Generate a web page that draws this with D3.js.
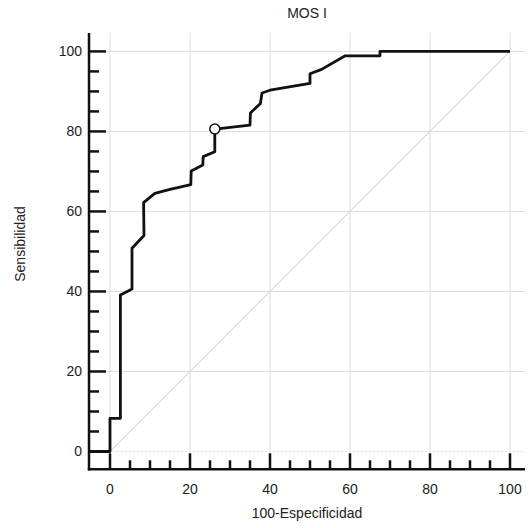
<!DOCTYPE html>
<html>
<head>
<meta charset="utf-8">
<script src="https://cdn.jsdelivr.net/npm/d3@7"></script>
<style>
body { margin: 0; background: #fff; }
svg { display: block; font-family: "Liberation Sans", Arial, sans-serif; }
</style>
</head>
<body>
<svg width="529" height="528"></svg>
<script>
const width = 529, height = 528;
const svg = d3.select("svg");

// ROC curve (100-Especificidad, Sensibilidad)
const fpr = [0, 0, 2.6, 2.6, 5.5, 5.5, 8.5, 8.4, 11.2, 15, 20.2, 20.3, 23.2, 23.3, 26.2, 26.2, 35, 35.1, 37.6, 38, 40, 50, 50, 52.9, 58.8, 67.5, 67.5, 100];
const tpr = [0, 8.3, 8.3, 39.1, 40.6, 50.8, 54, 62.2, 64.5, 65.5, 66.7, 70.1, 71.6, 73.7, 74.9, 80.6, 81.6, 84.6, 87, 89.6, 90.3, 92, 94.4, 95.5, 98.9, 98.9, 100, 100];
// punto de corte óptimo
const cutX = [26.2], cutY = [80.6];
const ticks = [0, 20, 40, 60, 80, 100];
const minorTicks = d3.range(0, 101, 5).filter(v => v % 20 !== 0);

const x = d3.scaleLinear().domain([-5.25, 103.75]).range([89, 525]);
const y = d3.scaleLinear().domain([-4.45, 104.6]).range([469.3, 33]);

// grilla
const grid = svg.append("g").attr("stroke", "#dcdcdc").attr("stroke-width", 1);
grid.selectAll(".gx").data(ticks).enter().append("line")
	.attr("x1", d => x(d)).attr("x2", d => x(d))
	.attr("y1", y.range()[1]).attr("y2", y.range()[0]);
grid.selectAll(".gy").data(ticks).enter().append("line")
	.attr("y1", d => y(d)).attr("y2", d => y(d))
	.attr("x1", x.range()[0]).attr("x2", x.range()[1])
	.attr("stroke-dasharray", d => d === 0 ? "2,2" : null);

// diagonal de referencia
svg.append("line")
	.attr("x1", x(0)).attr("y1", y(0))
	.attr("x2", x(100)).attr("y2", y(100))
	.attr("stroke", "#c8c8c8").attr("stroke-width", 1);

// curva ROC
const pts = fpr.map((v, i) => [v, tpr[i]]);
pts.unshift([x.domain()[0], 0]);
svg.append("path")
	.datum(pts)
	.attr("fill", "none")
	.attr("stroke", "#111")
	.attr("stroke-width", 2.8)
	.attr("stroke-linejoin", "round")
	.attr("d", d3.line().x(d => x(d[0])).y(d => y(d[1])));

svg.selectAll(".cut").data(cutX).enter().append("circle")
	.attr("cx", d => x(d)).attr("cy", (d, i) => y(cutY[i]))
	.attr("r", 5)
	.attr("fill", "#fff").attr("stroke", "#111").attr("stroke-width", 1.5);

// ejes
const ax = svg.append("g").attr("stroke", "#111").attr("stroke-width", 2.5);
ax.append("line").attr("x1", x.range()[0]).attr("x2", x.range()[0])
	.attr("y1", y.range()[1]).attr("y2", y.range()[0] + 1.2);
ax.append("line").attr("x1", x.range()[0] - 1.2).attr("x2", x.range()[1])
	.attr("y1", y.range()[0]).attr("y2", y.range()[0]);

// marcas eje x (hacia adentro)
ax.selectAll(".tx").data(ticks).enter().append("line")
	.attr("x1", d => x(d)).attr("x2", d => x(d))
	.attr("y1", y.range()[0]).attr("y2", y.range()[0] - 16);
ax.selectAll(".mx").data(minorTicks).enter().append("line")
	.attr("x1", d => x(d)).attr("x2", d => x(d))
	.attr("y1", y.range()[0]).attr("y2", y.range()[0] - 9);
// marcas eje y
ax.selectAll(".ty").data(ticks).enter().append("line")
	.attr("y1", d => y(d)).attr("y2", d => y(d))
	.attr("x1", x.range()[0]).attr("x2", x.range()[0] + 17);
ax.selectAll(".my").data(minorTicks).enter().append("line")
	.attr("y1", d => y(d)).attr("y2", d => y(d))
	.attr("x1", x.range()[0]).attr("x2", x.range()[0] + 10);

// etiquetas
const txt = svg.append("g").attr("fill", "#222").attr("font-size", 14);
txt.selectAll(".lx").data(ticks).enter().append("text")
	.attr("x", d => x(d)).attr("y", 494)
	.attr("text-anchor", "middle")
	.text(d => d);
txt.selectAll(".ly").data(ticks).enter().append("text")
	.attr("x", 82).attr("y", d => y(d) + 5)
	.attr("text-anchor", "end")
	.text(d => d);

txt.append("text").attr("x", 307).attr("y", 18).attr("text-anchor", "middle").text("MOS I");
txt.append("text").attr("x", 307).attr("y", 518).attr("text-anchor", "middle").text("100-Especificidad");
txt.append("text")
	.attr("transform", "translate(25,244) rotate(-90)")
	.attr("text-anchor", "middle")
	.text("Sensibilidad");
</script>
</body>
</html>
